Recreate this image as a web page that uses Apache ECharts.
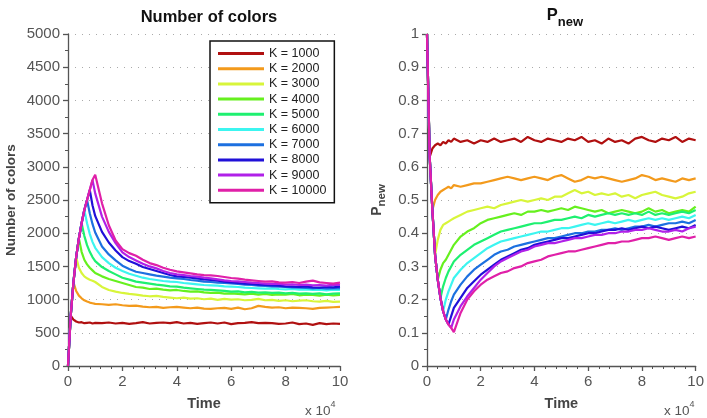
<!DOCTYPE html>
<html>
<head>
<meta charset="utf-8">
<script src="https://cdn.jsdelivr.net/npm/echarts@6.0.0/dist/echarts.min.js"></script>
<style>
  html, body { margin: 0; padding: 0; background: #fff; }
  #chart-container { width: 707px; height: 418px; }
</style>
</head>
<body>
<div id="chart-container"></div>
<script>
var dom = document.getElementById('chart-container');
var myChart = echarts.init(dom, null, { renderer: 'canvas' });

// time axis, in units of 10^4
var time = [0, 0.1, 0.2, 0.3, 0.4, 0.5, 0.6, 0.7, 0.8, 0.9, 1,
    1.25, 1.5, 1.75, 2, 2.25, 2.5, 2.75, 3, 3.25, 3.5, 3.75, 4,
    4.25, 4.5, 4.75, 5, 5.25, 5.5, 5.75, 6, 6.25, 6.5, 6.75, 7,
    7.25, 7.5, 7.75, 8, 8.25, 8.5, 8.75, 9, 9.25, 9.5, 9.75, 10];

var names = ['K = 1000', 'K = 2000', 'K = 3000', 'K = 4000', 'K = 5000',
    'K = 6000', 'K = 7000', 'K = 8000', 'K = 9000', 'K = 10000'];
var colors = ['#b01010', '#f39a1c', '#d8f53a', '#66f01e', '#1ef070',
    '#3cf5f0', '#1c70e0', '#2010d8', '#b020e8', '#e020a8'];

// common start shared by all runs (null below = follow this)
var colorsRise = [0, 760, 1260, 1640, 1920, 2150, 2350, 2500, 2650, 2800, 2880];
var pnewDrop = [1.0, 0.63, 0.47, 0.335, 0.26, 0.205, 0.165, 0.14, 0.125, 0.115, 0.102];

var colorsK1000 = [null, null, 700, 670, 655, 660, 645, 650, 655, 640, 650,
    645, 655, 640, 650, 635, 645, 660, 640, 650, 655, 645, 660,
    640, 650, 635, 645, 655, 640, 655, 630, 645, 650, 660, 645,
    650, 645, 635, 640, 655, 630, 640, 620, 645, 630, 640, 635];
var colorsK2000 = [null, null, null, 1130, 1060, 1020, 990, 970, 955, 945, 935,
    930, 920, 930, 915, 905, 910, 895, 885, 890, 875, 885, 890,
    880, 870, 880, 865, 860, 870, 875, 860, 880, 855, 870, 905,
    890, 880, 885, 870, 880, 875, 870, 860, 875, 880, 885, 890];
var colorsK3000 = [null, null, null, null, 1480, 1400, 1350, 1320, 1300, 1285, 1265,
    1190, 1145, 1120, 1100, 1085, 1075, 1060, 1050, 1055, 1040, 1030, 1020,
    1030, 1015, 1020, 1005, 1015, 995, 1010, 1000, 1005, 990, 995, 1010,
    990, 995, 980, 990, 975, 985, 990, 975, 970, 980, 965, 970];
var colorsK4000 = [null, null, null, null, null, 1720, 1600, 1530, 1480, 1440, 1400,
    1350, 1310, 1280, 1250, 1220, 1190, 1180, 1160, 1165, 1150, 1140, 1145,
    1130, 1120, 1125, 1110, 1100, 1105, 1090, 1095, 1085, 1080, 1090, 1075,
    1085, 1070, 1080, 1075, 1085, 1065, 1075, 1070, 1060, 1075, 1065, 1070];
var colorsK5000 = [null, null, null, null, null, null, 1960, 1820, 1720, 1640, 1580,
    1490, 1430, 1380, 1330, 1300, 1270, 1255, 1240, 1225, 1215, 1200, 1195,
    1180, 1170, 1160, 1150, 1145, 1140, 1130, 1120, 1125, 1110, 1115, 1105,
    1110, 1100, 1105, 1095, 1100, 1090, 1095, 1085, 1095, 1080, 1090, 1095];
var colorsK6000 = [null, null, null, null, null, null, null, 2150, 1990, 1870, 1780,
    1640, 1550, 1480, 1430, 1390, 1360, 1330, 1310, 1295, 1280, 1270, 1265,
    1250, 1240, 1230, 1220, 1215, 1210, 1200, 1195, 1190, 1180, 1175, 1170,
    1165, 1170, 1160, 1155, 1160, 1150, 1155, 1145, 1150, 1140, 1150, 1145];
var colorsK7000 = [null, null, null, null, null, null, null, null, 2300, 2140, 2010,
    1800, 1680, 1590, 1510, 1460, 1420, 1400, 1380, 1360, 1345, 1330, 1320,
    1310, 1295, 1285, 1270, 1265, 1255, 1250, 1245, 1235, 1225, 1220, 1210,
    1205, 1200, 1195, 1190, 1185, 1180, 1175, 1170, 1175, 1165, 1170, 1170];
var colorsK8000 = [null, null, null, null, null, null, null, null, null, 2420, 2260,
    2020, 1860, 1740, 1640, 1580, 1540, 1490, 1460, 1430, 1400, 1370, 1350,
    1340, 1330, 1320, 1305, 1295, 1285, 1270, 1260, 1250, 1240, 1235, 1225,
    1220, 1215, 1210, 1200, 1195, 1190, 1200, 1185, 1180, 1190, 1185, 1195];
var colorsK9000 = [null, null, null, null, null, null, null, null, null, null, 2600,
    2250, 2020, 1850, 1710, 1640, 1590, 1540, 1500, 1470, 1430, 1400, 1380,
    1370, 1355, 1345, 1330, 1320, 1305, 1290, 1280, 1275, 1265, 1255, 1250,
    1240, 1235, 1240, 1225, 1230, 1220, 1225, 1215, 1220, 1210, 1225, 1220];
var colorsK10000 = [null, null, null, null, null, null, null, null, null, null, null,
    2450, 2120, 1890, 1760, 1700, 1660, 1600, 1550, 1520, 1480, 1450, 1425,
    1410, 1395, 1380, 1370, 1365, 1355, 1340, 1325, 1315, 1300, 1290, 1280,
    1270, 1275, 1260, 1255, 1265, 1250, 1270, 1285, 1260, 1250, 1240, 1255];

var pnewK1000 = [null, null, 0.655, 0.665, 0.67, 0.665, 0.675, 0.67, 0.68, 0.675, 0.685,
    0.675, 0.68, 0.67, 0.68, 0.675, 0.685, 0.675, 0.68, 0.685, 0.675, 0.69, 0.68,
    0.675, 0.685, 0.68, 0.675, 0.685, 0.68, 0.69, 0.675, 0.68, 0.67, 0.685, 0.675,
    0.68, 0.67, 0.685, 0.69, 0.68, 0.675, 0.685, 0.68, 0.69, 0.675, 0.685, 0.68];
var pnewK2000 = [null, null, null, 0.5, 0.515, 0.525, 0.53, 0.535, 0.54, 0.535, 0.545,
    0.54, 0.545, 0.55, 0.55, 0.555, 0.56, 0.565, 0.57, 0.565, 0.56, 0.565, 0.57,
    0.565, 0.56, 0.57, 0.575, 0.565, 0.555, 0.56, 0.57, 0.565, 0.57, 0.565, 0.56,
    0.555, 0.56, 0.565, 0.575, 0.57, 0.56, 0.565, 0.56, 0.555, 0.565, 0.56, 0.565];
var pnewK3000 = [null, null, null, null, 0.38, 0.41, 0.425, 0.43, 0.435, 0.44, 0.445,
    0.455, 0.465, 0.47, 0.475, 0.48, 0.475, 0.485, 0.49, 0.495, 0.5, 0.495, 0.5,
    0.505, 0.5, 0.51, 0.51, 0.52, 0.53, 0.52, 0.525, 0.515, 0.52, 0.515, 0.52,
    0.51, 0.515, 0.505, 0.515, 0.52, 0.525, 0.515, 0.51, 0.505, 0.51, 0.52, 0.525];
var pnewK4000 = [null, null, null, null, null, 0.29, 0.31, 0.32, 0.335, 0.35, 0.365,
    0.39, 0.405, 0.415, 0.43, 0.44, 0.445, 0.45, 0.455, 0.46, 0.455, 0.465, 0.465,
    0.47, 0.465, 0.47, 0.475, 0.47, 0.48, 0.475, 0.47, 0.465, 0.47, 0.46, 0.465,
    0.47, 0.465, 0.46, 0.465, 0.475, 0.465, 0.47, 0.46, 0.465, 0.47, 0.465, 0.48];
var pnewK5000 = [null, null, null, null, null, null, 0.24, 0.265, 0.285, 0.3, 0.315,
    0.335, 0.35, 0.365, 0.375, 0.385, 0.395, 0.405, 0.41, 0.415, 0.42, 0.425, 0.43,
    0.43, 0.435, 0.44, 0.44, 0.445, 0.45, 0.445, 0.455, 0.45, 0.455, 0.46, 0.455,
    0.46, 0.455, 0.46, 0.455, 0.465, 0.455, 0.46, 0.455, 0.46, 0.465, 0.46, 0.47];
var pnewK6000 = [null, null, null, null, null, null, null, 0.2, 0.225, 0.245, 0.265,
    0.29, 0.31, 0.325, 0.34, 0.355, 0.365, 0.375, 0.38, 0.385, 0.39, 0.395, 0.4,
    0.405, 0.405, 0.41, 0.415, 0.415, 0.42, 0.425, 0.43, 0.425, 0.43, 0.435, 0.43,
    0.435, 0.44, 0.435, 0.44, 0.445, 0.44, 0.445, 0.44, 0.445, 0.45, 0.445, 0.455];
var pnewK7000 = [null, null, null, null, null, null, null, null, 0.17, 0.195, 0.215,
    0.245, 0.27, 0.29, 0.305, 0.32, 0.335, 0.345, 0.35, 0.36, 0.365, 0.37, 0.375,
    0.38, 0.385, 0.385, 0.39, 0.395, 0.4, 0.4, 0.405, 0.405, 0.41, 0.41, 0.415,
    0.41, 0.415, 0.42, 0.42, 0.425, 0.42, 0.425, 0.43, 0.43, 0.435, 0.43, 0.44];
var pnewK8000 = [null, null, null, null, null, null, null, null, null, 0.15, 0.175,
    0.205, 0.235, 0.255, 0.275, 0.29, 0.305, 0.32, 0.33, 0.34, 0.35, 0.355, 0.365,
    0.37, 0.375, 0.38, 0.385, 0.385, 0.39, 0.395, 0.4, 0.4, 0.405, 0.41, 0.41,
    0.415, 0.41, 0.415, 0.42, 0.415, 0.42, 0.415, 0.41, 0.415, 0.42, 0.415, 0.425];
var pnewK9000 = [null, null, null, null, null, null, null, null, null, null, 0.14,
    0.18, 0.21, 0.235, 0.26, 0.28, 0.3, 0.315, 0.325, 0.335, 0.345, 0.35, 0.36,
    0.365, 0.37, 0.37, 0.375, 0.38, 0.385, 0.385, 0.39, 0.395, 0.395, 0.4, 0.4,
    0.405, 0.405, 0.41, 0.41, 0.415, 0.41, 0.405, 0.405, 0.41, 0.405, 0.415, 0.42];
var pnewK10000 = [null, null, null, null, null, null, null, null, null, null, null,
    0.16, 0.2, 0.225, 0.245, 0.26, 0.27, 0.28, 0.285, 0.295, 0.3, 0.31, 0.315,
    0.32, 0.33, 0.335, 0.34, 0.345, 0.345, 0.35, 0.355, 0.36, 0.365, 0.37, 0.37,
    0.375, 0.375, 0.38, 0.385, 0.385, 0.39, 0.385, 0.38, 0.385, 0.39, 0.385, 0.39];

var colorsRuns = [colorsK1000, colorsK2000, colorsK3000, colorsK4000, colorsK5000,
    colorsK6000, colorsK7000, colorsK8000, colorsK9000, colorsK10000];
var pnewRuns = [pnewK1000, pnewK2000, pnewK3000, pnewK4000, pnewK5000,
    pnewK6000, pnewK7000, pnewK8000, pnewK9000, pnewK10000];

function toPoints(run, start) {
    return time.map(function (t, j) {
        var v = run[j] == null ? start[j] : run[j];
        return [t, v];
    });
}

var FONT = 'Liberation Sans';
var axisCommon = {
    axisLine: { show: true, lineStyle: { color: '#555', width: 1.3 } },
    axisTick: { show: true, length: 5, lineStyle: { color: '#555', width: 1.3 } },
    minorTick: { show: true, length: 3, lineStyle: { color: '#555', width: 1 } },
    axisLabel: {
        color: '#555', fontSize: 15, fontFamily: FONT, margin: 8,
        formatter: function (v) { return String(v); }
    }
};

function xAxisFor(gridIndex) {
    return echarts.util.merge({
        type: 'value', gridIndex: gridIndex, min: 0, max: 10, interval: 2,
        splitLine: { show: false },
        name: 'Time', nameLocation: 'middle', nameGap: 30,
        nameTextStyle: { fontFamily: FONT, fontWeight: 'bold', fontSize: 14.5, color: '#444' },
        minorTick: { splitNumber: 5 }
    }, echarts.util.clone(axisCommon), false);
}

var series = [];
names.forEach(function (name, i) {
    series.push({
        name: name, type: 'line', xAxisIndex: 0, yAxisIndex: 0,
        data: toPoints(colorsRuns[i], colorsRise),
        showSymbol: false, animation: false,
        lineStyle: { color: colors[i], width: 2.2 }, itemStyle: { color: colors[i] }
    });
});
names.forEach(function (name, i) {
    series.push({
        name: name, type: 'line', xAxisIndex: 1, yAxisIndex: 1,
        data: toPoints(pnewRuns[i], pnewDrop),
        showSymbol: false, animation: false,
        lineStyle: { color: colors[i], width: 2.2 }, itemStyle: { color: colors[i] }
    });
});

var option = {
    backgroundColor: '#fff',
    animation: false,
    title: [
        {
            text: 'Number of colors', left: 204, top: 4, textAlign: 'center',
            textStyle: { fontFamily: FONT, fontWeight: 'bold', fontSize: 16.5, color: '#111' }
        },
        {
            text: '{p|P}{s|new}', left: 560, top: 2, textAlign: 'center',
            textStyle: {
                rich: {
                    p: { fontFamily: FONT, fontWeight: 'bold', fontSize: 16.5, color: '#111', verticalAlign: 'top', lineHeight: 18 },
                    s: { fontFamily: FONT, fontWeight: 'bold', fontSize: 13, color: '#111', padding: [12, 0, 0, 0], lineHeight: 18 }
                }
            }
        }
    ],
    legend: {
        data: names,
        orient: 'vertical',
        left: 210, top: 41,
        padding: [6, 8, 6, 8],
        itemGap: 2.2,
        itemWidth: 46, itemHeight: 3,
        icon: 'rect',
        borderColor: '#111', borderWidth: 1.5,
        backgroundColor: '#fff',
        textStyle: { fontFamily: FONT, fontSize: 12.5, color: '#222', lineHeight: 13 }
    },
    grid: [
        { left: 68, top: 34, width: 272, height: 332 },
        { left: 427, top: 34, width: 272, height: 332 }
    ],
    xAxis: [xAxisFor(0), xAxisFor(1)],
    yAxis: [
        echarts.util.merge({
            type: 'value', gridIndex: 0, min: 0, max: 5000, interval: 500,
            splitLine: { show: true, lineStyle: { color: '#aaa', type: [1, 6], width: 1 } },
            name: 'Number of colors', nameLocation: 'middle', nameGap: 50,
            nameTextStyle: { fontFamily: FONT, fontWeight: 'bold', fontSize: 13.5, color: '#444' },
            minorTick: { splitNumber: 2 }
        }, echarts.util.clone(axisCommon), false),
        echarts.util.merge({
            type: 'value', gridIndex: 1, min: 0, max: 1, interval: 0.1,
            splitLine: { show: true, lineStyle: { color: '#aaa', type: [1, 6], width: 1 } },
            name: '{p|P}{s|new}', nameLocation: 'middle', nameGap: 42,
            nameTextStyle: {
                rich: {
                    p: { fontFamily: FONT, fontWeight: 'bold', fontSize: 14, color: '#444', lineHeight: 16 },
                    s: { fontFamily: FONT, fontWeight: 'bold', fontSize: 11.5, color: '#444', padding: [10, 0, 0, 0], lineHeight: 16 }
                }
            },
            minorTick: { splitNumber: 2 }
        }, echarts.util.clone(axisCommon), false)
    ],
    graphic: [
        {
            type: 'text', left: 305, top: 400,
            style: {
                text: '{a|x 10}{b|4}',
                rich: {
                    a: { fontFamily: FONT, fontSize: 13.5, fill: '#555', padding: [4, 0, 0, 0] },
                    b: { fontFamily: FONT, fontSize: 9, fill: '#555', verticalAlign: 'top' }
                }
            }
        },
        {
            type: 'text', left: 664, top: 400,
            style: {
                text: '{a|x 10}{b|4}',
                rich: {
                    a: { fontFamily: FONT, fontSize: 13.5, fill: '#555', padding: [4, 0, 0, 0] },
                    b: { fontFamily: FONT, fontSize: 9, fill: '#555', verticalAlign: 'top' }
                }
            }
        }
    ],
    series: series
};

myChart.setOption(option);
window.addEventListener('resize', myChart.resize);
</script>
</body>
</html>
